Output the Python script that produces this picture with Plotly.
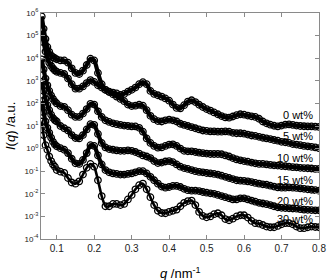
import numpy as np
import plotly.graph_objects as go

# scattering vector q (nm^-1)
q = [0.060, 0.065, 0.070, 0.075, 0.080, 0.085, 0.090, 0.095,
     0.10, 0.11, 0.12, 0.13, 0.14, 0.15, 0.16, 0.17, 0.18, 0.19,
     0.20, 0.21, 0.22, 0.23, 0.24, 0.25, 0.26, 0.27, 0.28, 0.29,
     0.30, 0.31, 0.32, 0.33, 0.34, 0.35, 0.36, 0.37, 0.38, 0.39,
     0.40, 0.41, 0.42, 0.43, 0.44, 0.45, 0.46, 0.47, 0.48, 0.49,
     0.50, 0.51, 0.52, 0.53, 0.54, 0.55, 0.56, 0.57, 0.58, 0.59,
     0.60, 0.61, 0.62, 0.63, 0.64, 0.65, 0.66, 0.67, 0.68, 0.69,
     0.70, 0.71, 0.72, 0.73, 0.74, 0.75, 0.76, 0.77, 0.78, 0.79, 0.80]

# log10 I(q), one list per sample
log_I_0 = [5.85, 5.3, 4.85, 4.5, 4.28, 4.12, 4.05, 4.0,
           3.95, 3.9, 3.9, 3.8, 3.55, 3.35, 3.3, 3.45, 3.7, 3.98,
           3.9, 3.35, 2.85, 2.6, 2.52, 2.48, 2.44, 2.38, 2.42, 2.52,
           2.6, 2.7, 2.85, 2.94, 2.85, 2.55, 2.42, 2.36, 2.3, 2.22,
           2.12, 1.95, 1.8, 1.78, 1.92, 2.08, 2.14, 2.06, 1.94, 1.84,
           1.75, 1.68, 1.6, 1.52, 1.44, 1.38, 1.37, 1.42, 1.48, 1.52,
           1.5, 1.46, 1.43, 1.4, 1.32, 1.2, 1.12, 1.06, 1.01, 0.98,
           1.02, 1.06, 1.07, 1.05, 1.02, 1.0, 0.99, 0.98, 0.98, 0.97, 0.96]

log_I_5 = [5.2, 4.7, 4.3, 4.0, 3.8, 3.66, 3.55, 3.46,
           3.4, 3.35, 3.3, 3.1, 2.85, 2.65, 2.65, 2.75, 2.9, 3.03,
           2.95, 2.8, 2.7, 2.6, 2.5, 2.4, 2.3, 2.2, 2.1, 1.95,
           1.88, 1.9, 1.94, 1.9, 1.7, 1.45, 1.3, 1.22, 1.2, 1.25,
           1.28, 1.25, 1.2, 1.1, 1.05, 1.0, 0.95, 0.9, 0.85, 0.8,
           0.78, 0.76, 0.76, 0.75, 0.75, 0.76, 0.75, 0.7, 0.68, 0.68,
           0.66, 0.62, 0.58, 0.56, 0.52, 0.48, 0.45, 0.42, 0.38, 0.35,
           0.3, 0.28, 0.25, 0.2, 0.18, 0.15, 0.12, 0.1, 0.08, 0.05, 0.02]

log_I_10 = [3.95, 3.5, 3.1, 2.8, 2.55, 2.35, 2.2, 2.08,
            2.0, 1.88, 1.85, 1.7, 1.5, 1.4, 1.4, 1.55, 1.75, 1.98,
            1.95, 1.65, 1.4, 1.25, 1.18, 1.12, 1.08, 1.05, 1.02, 1.0,
            0.98, 0.98, 0.92, 0.75, 0.45, 0.25, 0.12, 0.04, 0.05, 0.12,
            0.18, 0.19, 0.12, 0.0, -0.1, -0.12, -0.12, -0.15, -0.18, -0.2,
            -0.22, -0.24, -0.24, -0.24, -0.25, -0.3, -0.35, -0.42, -0.48, -0.52,
            -0.55, -0.58, -0.62, -0.65, -0.68, -0.68, -0.7, -0.72, -0.74, -0.75,
            -0.77, -0.78, -0.8, -0.82, -0.83, -0.85, -0.86, -0.87, -0.88, -0.9, -0.9]

log_I_15 = [2.95, 2.55, 2.2, 1.92, 1.7, 1.5, 1.35, 1.26,
            1.2, 1.0, 0.9, 0.8, 0.6, 0.47, 0.45, 0.6, 0.85, 1.08,
            1.05, 0.65, 0.25, 0.05, -0.02, -0.05, -0.08, -0.1, -0.1, -0.08,
            -0.1, -0.15, -0.22, -0.3, -0.35, -0.42, -0.55, -0.64, -0.62, -0.57,
            -0.55, -0.6, -0.7, -0.8, -0.86, -0.9, -0.95, -1.0, -1.03, -1.05,
            -1.08, -1.1, -1.12, -1.15, -1.2, -1.25, -1.3, -1.35, -1.4, -1.42,
            -1.43, -1.45, -1.48, -1.52, -1.55, -1.58, -1.6, -1.64, -1.68, -1.72,
            -1.73, -1.73, -1.72, -1.73, -1.74, -1.76, -1.78, -1.8, -1.82, -1.84, -1.86]

log_I_20 = [2.1, 1.6, 1.2, 0.92, 0.7, 0.48, 0.3, 0.18,
            0.1, 0.02, -0.05, -0.2, -0.45, -0.65, -0.68, -0.5, -0.2, 0.15,
            0.12, -0.3, -0.7, -0.95, -1.05, -1.1, -1.12, -1.15, -1.15, -1.12,
            -1.1, -1.05, -1.0, -1.0, -1.1, -1.25, -1.4, -1.55, -1.68, -1.73,
            -1.7, -1.65, -1.65, -1.7, -1.78, -1.84, -1.86, -1.86, -1.88, -1.92,
            -1.95, -1.98, -2.0, -2.05, -2.1, -2.15, -2.2, -2.25, -2.25, -2.2,
            -2.2, -2.25, -2.3, -2.35, -2.4, -2.43, -2.46, -2.5, -2.55, -2.6,
            -2.62, -2.63, -2.64, -2.65, -2.66, -2.68, -2.7, -2.71, -2.72, -2.73, -2.73]

log_I_30 = [1.2, 0.6, 0.15, -0.05, -0.35, -0.55, -0.7, -0.8,
            -0.95, -1.02, -1.07, -1.3, -1.5, -1.55, -1.45, -1.15, -0.85, -0.68,
            -0.8, -1.4, -2.1, -2.55, -2.55, -2.45, -2.45, -2.5, -2.45, -2.25,
            -2.05, -1.8, -1.62, -1.55, -1.8, -2.15, -2.5, -2.75, -2.85, -2.86,
            -2.8, -2.75, -2.7, -2.55, -2.4, -2.32, -2.3, -2.5, -2.8, -2.98,
            -3.04, -3.0, -2.9, -2.86, -2.95, -3.12, -3.17, -3.1, -3.0, -2.95,
            -2.95, -3.05, -3.2, -3.3, -3.32, -3.38, -3.45, -3.48, -3.48, -3.42,
            -3.35, -3.3, -3.3, -3.35, -3.45, -3.52, -3.52, -3.48, -3.45, -3.47, -3.48]

series = [log_I_0, log_I_5, log_I_10, log_I_15, log_I_20, log_I_30]
labels = ["0 wt%", "5 wt%", "10 wt%", "15 wt%", "20 wt%", "30 wt%"]
label_log_y = [1.5, 0.54, -0.42, -1.38, -2.3, -3.13]

ytick_exp = [-4, -3, -2, -1, 0, 1, 2, 3, 4, 5, 6]
ytick_text = ["10<sup>%d</sup>" % e for e in ytick_exp]
xtick_vals = [0.1, 0.2, 0.3, 0.4, 0.5, 0.6, 0.7, 0.8]

FONT = "Liberation Sans, Arial, Helvetica, sans-serif"

fig = go.Figure()
for i, lg in enumerate(series):
    # the 30 wt% data are sparser open circles in the reference
    lw = 2.6 if i == 5 else 4.2
    fig.add_trace(go.Scatter(
        x=q, y=10 ** np.array(lg), mode="lines+markers",
        line=dict(color="black", width=lw, shape="spline", smoothing=0.6),
        marker=dict(symbol="circle-open", size=6.5, color="black",
                    line=dict(width=1.3, color="black")),
        showlegend=False, hoverinfo="skip"))

for lab, ly in zip(labels, label_log_y):
    fig.add_annotation(x=0.79, y=ly, xref="x", yref="y", text=lab,
                       showarrow=False, xanchor="right", yanchor="middle",
                       font=dict(family=FONT, size=11, color="black"))

fig.add_annotation(x=0.0, y=0.5, xref="paper", yref="paper",
                   xshift=-31, text="<i>I</i>(<i>q</i>) /a.u.", textangle=-90,
                   showarrow=False, xanchor="center", yanchor="middle",
                   font=dict(family=FONT, size=13, color="black"))
fig.add_annotation(x=0.5, y=0.0, xref="paper", yref="paper",
                   yshift=-34, text="<i>q</i> /nm<sup>-1</sup>",
                   showarrow=False, xanchor="center", yanchor="middle",
                   font=dict(family=FONT, size=13, color="black"))

axis_common = dict(showline=True, linecolor="#8a8a8a", linewidth=1,
                   mirror="ticks", ticks="inside", ticklen=4,
                   tickcolor="#8a8a8a", tickwidth=1, showgrid=False,
                   zeroline=False)

fig.update_xaxes(range=[0.058, 0.8], tickvals=xtick_vals,
                 ticktext=[("%.1f" % v) for v in xtick_vals],
                 tickfont=dict(family=FONT, size=10, color="#222"),
                 **axis_common)
fig.update_yaxes(type="log", range=[-4, 6],
                 tickvals=[10.0 ** e for e in ytick_exp], ticktext=ytick_text,
                 tickfont=dict(family=FONT, size=8, color="#222"),
                 **axis_common)

fig.update_layout(width=333, height=280,
                  margin=dict(l=41, r=7, t=10, b=41),
                  paper_bgcolor="white", plot_bgcolor="white",
                  font=dict(family=FONT))

fig.write_html("out.html")
